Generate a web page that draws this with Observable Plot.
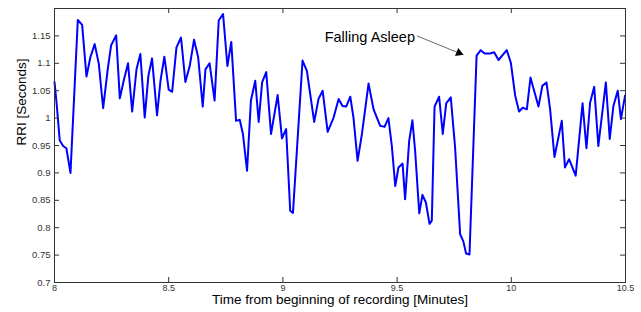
<!DOCTYPE html>
<html><head><meta charset="utf-8">
<script src="https://cdn.jsdelivr.net/npm/d3@7"></script>
<script src="https://cdn.jsdelivr.net/npm/@observablehq/plot@0.6"></script>
<style>body{margin:0;background:#fff} #chart svg{display:block}</style>
</head><body><div id="chart"></div>
<script>
// Time from beginning of recording [Minutes]
const time = [8.000,8.009,8.023,8.038,8.052,8.070,8.102,8.121,8.140,8.157,8.176,8.194,8.213,8.233,8.248,8.270,8.286,8.303,8.322,8.340,8.359,8.376,8.395,8.411,8.427,8.449,8.464,8.481,8.500,8.515,8.534,8.554,8.573,8.592,8.611,8.629,8.649,8.661,8.679,8.701,8.719,8.738,8.757,8.774,8.795,8.811,8.825,8.843,8.860,8.879,8.894,8.909,8.927,8.948,8.977,8.996,9.014,9.032,9.044,9.086,9.105,9.137,9.156,9.174,9.196,9.222,9.244,9.261,9.277,9.295,9.309,9.327,9.346,9.375,9.397,9.426,9.445,9.462,9.477,9.492,9.506,9.524,9.535,9.553,9.567,9.579,9.597,9.611,9.626,9.642,9.652,9.664,9.684,9.700,9.715,9.735,9.754,9.776,9.790,9.802,9.817,9.848,9.866,9.883,9.907,9.925,9.944,9.980,9.998,10.017,10.034,10.050,10.068,10.084,10.119,10.136,10.154,10.170,10.189,10.221,10.235,10.253,10.282,10.312,10.329,10.345,10.363,10.381,10.414,10.431,10.447,10.466,10.480,10.498];
// RRI [Seconds]
const rri = [1.066,1.028,0.959,0.949,0.945,0.900,1.179,1.170,1.076,1.111,1.135,1.099,1.018,1.089,1.133,1.151,1.036,1.068,1.100,1.012,1.089,1.117,1.001,1.077,1.109,1.005,1.068,1.112,1.052,1.048,1.129,1.147,1.066,1.095,1.143,1.111,1.021,1.089,1.100,1.032,1.178,1.190,1.095,1.139,0.995,0.997,0.971,0.904,1.032,1.068,0.993,1.065,1.084,0.971,1.042,0.963,0.980,0.831,0.827,1.105,1.086,0.993,1.035,1.050,0.975,1.001,1.035,1.022,1.021,1.039,1.001,0.922,0.971,1.063,1.016,0.986,0.984,1.000,0.949,0.876,0.910,0.917,0.852,0.959,0.996,0.940,0.826,0.860,0.846,0.807,0.813,1.021,1.039,0.971,1.027,1.038,0.946,0.788,0.775,0.753,0.751,1.114,1.124,1.118,1.118,1.120,1.106,1.124,1.101,1.041,1.012,1.019,1.016,1.074,1.021,1.059,1.065,1.016,0.929,0.995,0.910,0.925,0.895,1.027,0.945,1.028,1.057,0.949,1.065,0.962,1.022,1.050,0.998,1.041];

const xTicks = [8, 8.5, 9, 9.5, 10, 10.5];
const xTickLabels = ["8", "8.5", "9", "9.5", "10", "10.5"];
const yTicks = [0.7, 0.75, 0.8, 0.85, 0.9, 0.95, 1, 1.05, 1.1, 1.15];
const yTickLabels = ["0.7", "0.75", "0.8", "0.85", "0.9", "0.95", "1", "1.05", "1.1", "1.15"];
const xLabel = "Time from beginning of recording [Minutes]";
const yLabel = "RRI [Seconds]";
const annotationLabel = ["Falling Asleep"];
const arrowStart = [9.587, 1.150];
const arrowEnd = [9.790, 1.1155];

const data = time.map((t, i) => ({t, v: rri[i]}));
const arrowData = [{x1: arrowStart[0], y1: arrowStart[1], x2: arrowEnd[0], y2: arrowEnd[1]}];

const W = 641, H = 312, mL = 54, mR = 16, mT = 8, mB = 30;
const innerW = W - mL - mR, innerH = H - mT - mB;
const tickLen = 5;
const axisColor = "#333";

const chart = Plot.plot({
  width: W, height: H,
  marginLeft: mL, marginRight: mR, marginTop: mT, marginBottom: mB,
  x: {domain: [8, 10.5]},
  y: {domain: [0.7, 1.2]},
  style: {fontFamily: "'Liberation Sans', Arial, sans-serif", background: "#fff", overflow: "visible"},
  marks: [
    Plot.line(data, {x: "t", y: "v", stroke: "#0000ff", strokeWidth: 2, strokeLinejoin: "round"}),
    Plot.frame({stroke: axisColor, strokeWidth: 1}),
    Plot.tickX(xTicks, {x: d => d, stroke: axisColor, insetTop: innerH - tickLen}),
    Plot.tickX(xTicks, {x: d => d, stroke: axisColor, insetBottom: innerH - tickLen}),
    Plot.tickY(yTicks, {y: d => d, stroke: axisColor, insetRight: innerW - tickLen}),
    Plot.tickY(yTicks, {y: d => d, stroke: axisColor, insetLeft: innerW - tickLen}),
    Plot.axisX({ticks: xTicks, tickFormat: d => xTickLabels[xTicks.indexOf(d)], tickSize: 0, tickPadding: 2, fontSize: 9, fill: axisColor, label: null}),
    Plot.axisY({ticks: yTicks, tickFormat: d => yTickLabels[yTicks.indexOf(d)], tickSize: 0, tickPadding: 4, fontSize: 9.5, fill: axisColor, label: null}),
    Plot.text([xLabel], {text: d => d, frameAnchor: "bottom", dy: 21, fontSize: 13.5, fill: "#000"}),
    Plot.text([yLabel], {text: d => d, frameAnchor: "left", dx: -33, rotate: -90, fontSize: 13.5, fill: "#000"}),
    Plot.link(arrowData, {x1: "x1", y1: "y1", x2: "x2", y2: "y2", stroke: "#444", strokeWidth: 0.8}),
    Plot.dot(arrowData, {x: "x2", y: "y2", symbol: "triangle", r: 3.2, fill: "#000", stroke: null, rotate: 112, dx: -4.4, dy: -1.8}),
    Plot.text(annotationLabel, {text: d => d, x: arrowStart[0], y: arrowStart[1], textAnchor: "end", dx: -2, dy: 1, fontSize: 14.5, fill: "#000"})
  ]
});
document.getElementById("chart").appendChild(chart);
</script>
</body></html>
